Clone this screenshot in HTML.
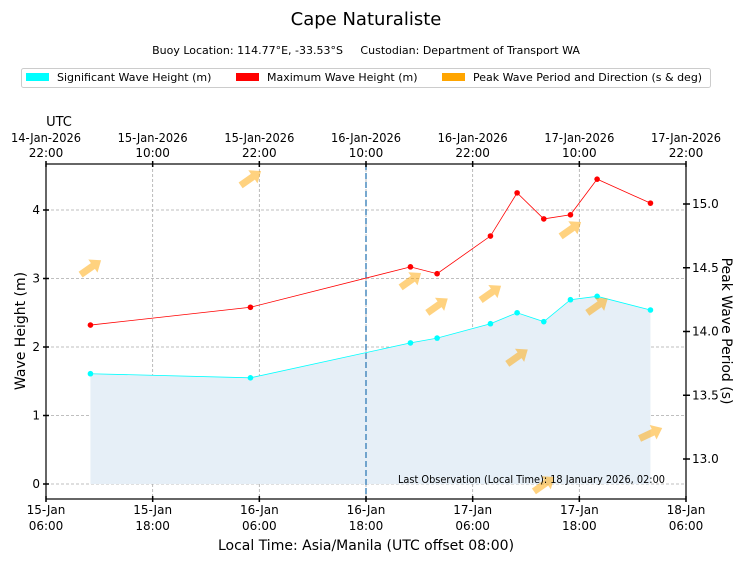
<!DOCTYPE html>
<html><head><meta charset="utf-8"><style>
body{margin:0;background:#fff;}
svg{display:block;font-family:"DejaVu Sans","Liberation Sans",sans-serif;}
</style></head><body>
<svg id="chart" width="743" height="562" viewBox="0 0 743 562">
<text x="366" y="25" font-size="18" text-anchor="middle">Cape Naturaliste</text>
<text x="366" y="54" font-size="11" text-anchor="middle" xml:space="preserve" style="white-space:pre">Buoy Location: 114.77°E, -33.53°S     Custodian: Department of Transport WA</text>
<g>
<rect x="21.5" y="68.5" width="689" height="19" fill="#fff" stroke="#ccc" rx="2"/>
<rect x="26" y="73" width="23" height="8" fill="#00ffff"/>
<text x="57" y="81" font-size="11">Significant Wave Height (m)</text>
<rect x="236" y="73" width="23" height="8" fill="#ff0000"/>
<text x="267" y="81" font-size="11">Maximum Wave Height (m)</text>
<rect x="442" y="73" width="23" height="8" fill="#ffa500"/>
<text x="473" y="81" font-size="11">Peak Wave Period and Direction (s &amp; deg)</text>
</g>
<g id="grid"></g>
<g id="marks"></g>
<g id="axes"></g>
</svg>
<script>
const hours = [5, 23, 41, 44, 50, 53, 56, 59, 62, 68];
const hsValues = [1.61, 1.55, 2.06, 2.13, 2.34, 2.50, 2.37, 2.69, 2.74, 2.54];
const hmaxValues = [2.32, 2.58, 3.17, 3.07, 3.62, 4.25, 3.87, 3.93, 4.45, 4.10];
const periodValues = [14.5, 15.2, 14.4, 14.2, 14.3, 13.8, 12.8, 14.8, 14.2, 13.2];
const directionDeg = [35, 35, 35, 35, 35, 35, 35, 35, 35, 25];
const localTickLabels = [["15-Jan","06:00"],["15-Jan","18:00"],["16-Jan","06:00"],["16-Jan","18:00"],["17-Jan","06:00"],["17-Jan","18:00"],["18-Jan","06:00"]];
const utcTickLabels = [["14-Jan-2026","22:00"],["15-Jan-2026","10:00"],["15-Jan-2026","22:00"],["16-Jan-2026","10:00"],["16-Jan-2026","22:00"],["17-Jan-2026","10:00"],["17-Jan-2026","22:00"]];
const leftTicks = [0, 1, 2, 3, 4];
const rightTicks = [13.0, 13.5, 14.0, 14.5, 15.0];
const nowHour = 36;

const L=46,R=686,T=164,B=499;
const xS=h=>L+h*(R-L)/72;
const yS=v=>484-v*68.5;
const yP=p=>331.5-(p-14)*127.5;
const NS='http://www.w3.org/2000/svg';
function mk(tag,attrs,parent,txt){const e=document.createElementNS(NS,tag);for(const k in attrs)e.setAttribute(k,attrs[k]);if(txt!==undefined)e.textContent=txt;parent.appendChild(e);return e;}
const grid=document.getElementById('grid'),marks=document.getElementById('marks'),axes=document.getElementById('axes');

leftTicks.forEach(v=>{const l=mk('line',{x1:L,x2:R,y1:yS(v),y2:yS(v),stroke:'#aaa','stroke-dasharray':'3,2','stroke-width':0.8},grid);

});
localTickLabels.forEach((t,i)=>{const x=xS(i*12);const l=mk('line',{x1:x,x2:x,y1:T,y2:B,stroke:'#aaa','stroke-dasharray':'3,2','stroke-width':0.8},grid);

});

let d='M'+xS(hours[0])+','+yS(0);
hours.forEach((h,i)=>d+=' L'+xS(h)+','+yS(hsValues[i]));
d+=' L'+xS(hours[hours.length-1])+','+yS(0)+' Z';
const area=mk('path',{d:d,fill:'#e6eff7'},marks);



const nl=mk('line',{x1:xS(nowHour),x2:xS(nowHour),y1:T,y2:B,stroke:'#4a8cbf','stroke-width':1.5,'stroke-dasharray':'6,3'},marks);



function series(vals,color,name){
 const pts=hours.map((h,i)=>xS(h)+','+yS(vals[i])).join(' ');
 const pl=mk('polyline',{points:pts,fill:'none',stroke:color,'stroke-width':0.8},marks);
 
 
 hours.forEach((h,i)=>{const c=mk('circle',{cx:xS(h),cy:yS(vals[i]),r:2.8,fill:color},marks);
 
 });
}
series(hsValues,'#00ffff','hs');
series(hmaxValues,'#ff0000','hmax');

hours.forEach((h,i)=>{
 const cx=xS(h),cy=yP(periodValues[i]);
 const g=mk('g',{transform:`translate(${cx},${cy}) rotate(${-directionDeg[i]})`},marks);
 
 
 mk('polygon',{points:'-12,-3.5 3,-3.5 3,-8 13,0 3,8 3,3.5 -12,3.5',fill:'#ffa500','fill-opacity':0.5},g);
});

const fr=mk('rect',{x:L,y:T,width:R-L,height:B-T,fill:'none',stroke:'#000','stroke-width':1.2},axes);



leftTicks.forEach(v=>{const y=yS(v);mk('line',{x1:L-3,x2:L+3,y1:y,y2:y,stroke:'#000','stroke-width':1.5},axes);
const t=mk('text',{x:L-6,y:y+4,'font-size':12,'text-anchor':'end'},axes,String(v));

});
rightTicks.forEach(v=>{const y=yP(v);mk('line',{x1:R-3,x2:R+4,y1:y,y2:y,stroke:'#000','stroke-width':1.5},axes);
const t=mk('text',{x:R+6,y:y+4,'font-size':12},axes,v.toFixed(1));

});
localTickLabels.forEach((lab,i)=>{const x=xS(i*12);
mk('line',{x1:x,x2:x,y1:B-3,y2:B+3,stroke:'#000','stroke-width':1.5},axes);
mk('line',{x1:x,x2:x,y1:T-3,y2:T+3,stroke:'#000','stroke-width':1.5},axes);
const t=mk('text',{x:x,y:514,'font-size':12,'text-anchor':'middle'},axes,lab[0]);


const t2=mk('text',{x:x,y:530,'font-size':12,'text-anchor':'middle'},axes,lab[1]);


const u=utcTickLabels[i];
const t3=mk('text',{x:x,y:142,'font-size':12,'text-anchor':'middle','textLength':70,'lengthAdjust':'spacingAndGlyphs'},axes,u[0]);


const t4=mk('text',{x:x,y:157,'font-size':12,'text-anchor':'middle'},axes,u[1]);

});

const utc=mk('text',{x:59,y:126,'font-size':13,'text-anchor':'middle'},axes,'UTC');


const xt=mk('text',{x:366,y:550,'font-size':14,'text-anchor':'middle'},axes,'Local Time: Asia/Manila (UTC offset 08:00)');


const yt=mk('text',{x:0,y:0,'font-size':14,'text-anchor':'middle',transform:'translate(25,331) rotate(-90)'},axes,'Wave Height (m)');


const yt2=mk('text',{x:0,y:0,'font-size':14,'text-anchor':'middle',transform:'translate(722,331) rotate(90)'},axes,'Peak Wave Period (s)');


const lo=mk('text',{x:665,y:483,'font-size':10.5,'text-anchor':'end','textLength':267,'lengthAdjust':'spacingAndGlyphs'},axes,'Last Observation (Local Time): 18 January 2026, 02:00');


</script>
</body></html>
